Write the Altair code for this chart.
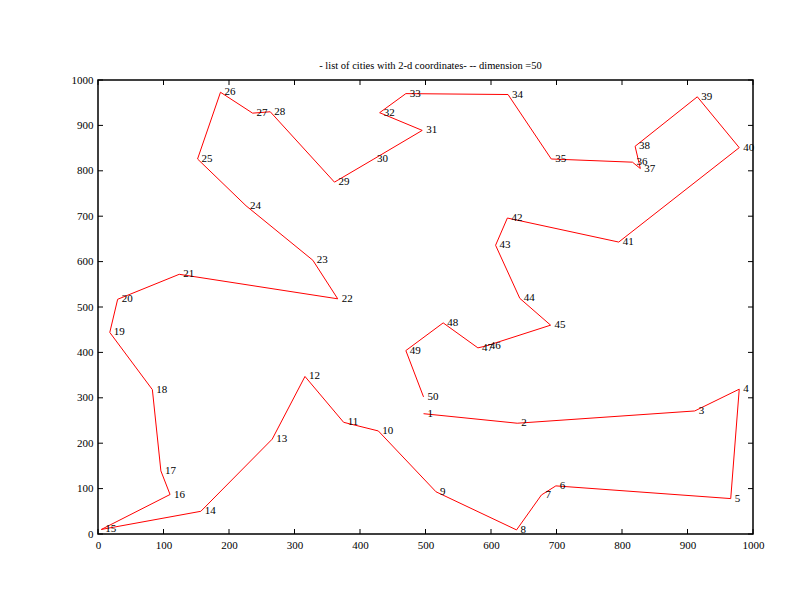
import altair as alt
import pandas as pd

city = list(range(1, 51))
xs = [497, 640, 911, 979, 966, 699, 677, 639, 516, 428,
      375, 316, 266, 157, 5, 110, 96, 83, 18, 30,
      124, 366, 328, 226, 152, 187, 236, 263, 361, 420,
      495, 430, 470, 626, 692, 816, 828, 820, 915, 979,
      795, 625, 607, 644, 691, 592, 580, 527, 470, 497]
ys = [265, 244, 271, 319, 78, 106, 86, 9, 93, 227,
      246, 347, 209, 50, 10, 87, 139, 318, 444, 517,
      572, 518, 603, 723, 826, 973, 927, 930, 775, 825,
      889, 928, 970, 968, 826, 819, 805, 854, 963, 851,
      643, 696, 636, 519, 460, 414, 410, 465, 404, 302]
tick_values = list(range(0, 1001, 100))
title_text = "- list of cities with 2-d coordinates- -- dimension =50"

df = pd.DataFrame({"x": xs, "y": ys, "city": city, "order": city})
tdf = pd.DataFrame({"t": tick_values})

W, H = 655, 454
FONT = "Liberation Serif"
TL = 5

SC = alt.Scale(domain=[0, 1000], nice=False, zero=False)


def ax(orient):
    return alt.Axis(orient=orient, values=tick_values, grid=False, domain=False, title=None,
                    ticks=False, labelFont=FONT, labelFontSize=11, format="d",
                    labelColor="black", labelPadding=5, labelFlush=False, labelOverlap=False,
                    labelBound=False)


line = alt.Chart(df).mark_line(color="#ff0000", strokeWidth=1).encode(
    x=alt.X("x:Q", scale=SC, axis=ax("bottom")),
    y=alt.Y("y:Q", scale=SC, axis=ax("left")),
    order="order:Q",
)

text = alt.Chart(df).mark_text(align="left", baseline="middle", dx=4, font=FONT,
                               fontSize=11, color="black").encode(
    x=alt.X("x:Q", scale=SC),
    y=alt.Y("y:Q", scale=SC),
    text="city:N",
)

tick_style = dict(color="black", strokeWidth=1)
bottom_ticks = alt.Chart(tdf).mark_rule(**tick_style).encode(
    x=alt.X("t:Q", scale=SC), y=alt.value(H), y2=alt.value(H - TL))
top_ticks = alt.Chart(tdf).mark_rule(**tick_style).encode(
    x=alt.X("t:Q", scale=SC), y=alt.value(0), y2=alt.value(TL))
left_ticks = alt.Chart(tdf).mark_rule(**tick_style).encode(
    y=alt.Y("t:Q", scale=SC), x=alt.value(0), x2=alt.value(TL))
right_ticks = alt.Chart(tdf).mark_rule(**tick_style).encode(
    y=alt.Y("t:Q", scale=SC), x=alt.value(W), x2=alt.value(W - TL))

chart = alt.layer(line, text, bottom_ticks, top_ticks, left_ticks, right_ticks).properties(
    width=W, height=H,
    title=alt.TitleParams(title_text, font=FONT, fontSize=10.5, fontWeight="normal",
                          color="black", anchor="middle", offset=3, dx=5),
    autosize=alt.AutoSizeParams(type="none"),
    padding={"left": 90, "top": 72, "right": 30, "bottom": 40},
).configure_view(stroke="black", strokeWidth=1.5)

chart.save("out.html", embed_options={"renderer": "svg", "actions": False})
